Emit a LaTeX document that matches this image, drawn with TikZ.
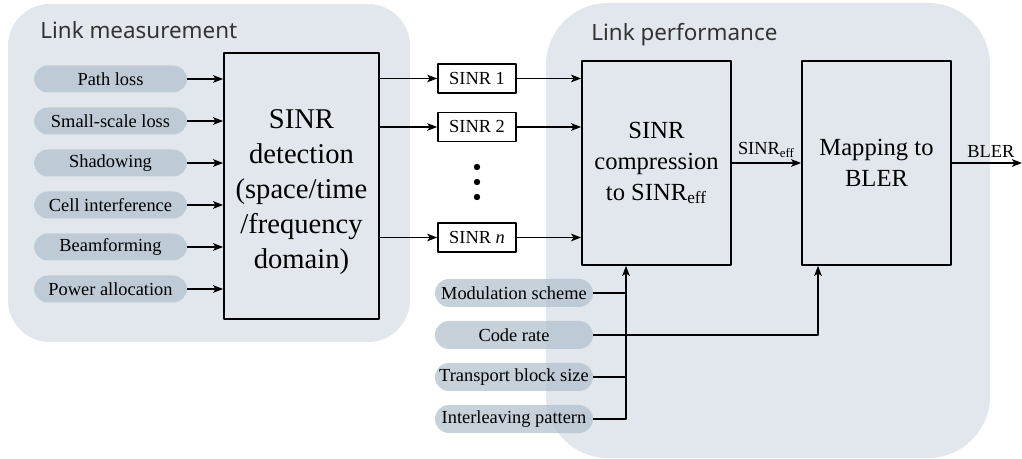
\documentclass[tikz,border=0pt]{standalone}
\usepackage{fontspec}
\setmainfont{Liberation Serif}
\newfontfamily\titlefont{Noto Sans}
\usetikzlibrary{arrows.meta,positioning,calc}

\definecolor{panelc}{HTML}{E1E7EC}
\definecolor{pillc}{HTML}{B3C1CE}

\tikzset{
  pill/.style={fill=pillc, fill opacity=0.75, text opacity=1, rounded corners=7pt,
    minimum width=76.5pt, minimum height=13.5pt, inner sep=0pt,
    font=\fontsize{9.2}{11}\selectfont},
  bigbox/.style={draw, line width=0.9pt, align=center, inner sep=0pt},
  sinrbox/.style={draw, line width=0.8pt, minimum width=39pt, minimum height=14.5pt,
    inner sep=0pt, font=\fontsize{9.2}{11}\selectfont},
  arr/.style={line width=0.65pt, -{Stealth[length=5pt,width=3.8pt,inset=1.2pt]}},
  ln/.style={line width=0.65pt},
  paneltitle/.style={anchor=base west, inner sep=0pt, text=black!80,
    font=\titlefont\fontsize{11.2}{13}\selectfont}
}

\begin{document}
\begin{tikzpicture}[x=0.5pt, y=-0.5pt, line join=round]
\useasboundingbox (0,0) rectangle (1022,459);
\fill[panelc, rounded corners=21pt] (8,4) rectangle (410,342);
\fill[panelc, rounded corners=31pt] (546,3) rectangle (990,458);
\node[paneltitle] (tmeas) at (40,39) {Link measurement};
\node[paneltitle] (tperf) at (591,41) {Link performance};

\node[bigbox, minimum width=77.5pt, minimum height=133pt,
  font=\fontsize{14.3}{17.5}\selectfont] (det) at (301.5,186)
  {\rule{0pt}{15.5pt}SINR\\detection\\(space/time\\/frequency\\domain)};
\foreach \t [count=\i] in {Path loss, Small-scale loss, Shadowing,
    Cell interference, Beamforming, Power allocation}
  \node[pill] (p\i) at (110.5,37+42*\i) {\t};
\foreach \i in {1,...,6}
  \draw[arr] (p\i.east) -- (p\i.east -| det.west);

\node[sinrbox] (s1) at (477,78.5) {SINR 1};
\node[sinrbox] (s2) at (477,127) {SINR 2};
\node[sinrbox] (sn) at (477,237.5) {SINR \textit{n}};
\foreach \y in {167,182,197}
  \fill (477,\y) circle (1.6pt);

\node[bigbox, minimum width=74.5pt, minimum height=102pt,
  font=\fontsize{12.3}{15.5}\selectfont] (comp) at (656.5,163)
  {SINR\\compression\\to SINR\textsubscript{eff}};
\node[bigbox, minimum width=74.5pt, minimum height=102pt,
  font=\fontsize{12.3}{15.5}\selectfont] (map) at (876.5,163)
  {Mapping to\\BLER};

\foreach \s in {s1,s2,sn} {
  \draw[arr] (det.east |- \s) -- (\s.west);
  \draw[arr] (\s.east) -- (\s.east -| comp.west);
}
\draw[arr] (comp.east) -- node[above=-1pt, font=\fontsize{9.2}{11}\selectfont]
  {SINR\textsubscript{eff}} (map.west);
\coordinate (out) at (1022,163);
\draw[arr] (map.east) -- node[above=-1pt, xshift=2pt, font=\fontsize{9.2}{11}\selectfont]
  {BLER} (out);

\foreach \t [count=\i] in {Modulation scheme, Code rate, Transport block size,
    Interleaving pattern}
  \node[pill, minimum width=79pt, minimum height=14pt] (q\i) at (514,251+42*\i) {\t};
\coordinate (cin) at ([xshift=-15.25pt]comp.south);
\coordinate (min) at ([xshift=-29.25pt]map.south);
\draw[ln] (q1.east) -- (q1.east -| cin);
\draw[ln] (q3.east) -- (q3.east -| cin);
\draw[arr] (q4.east) -| (cin);
\draw[arr] (q2.east) -| (min);
\end{tikzpicture}
\end{document}
